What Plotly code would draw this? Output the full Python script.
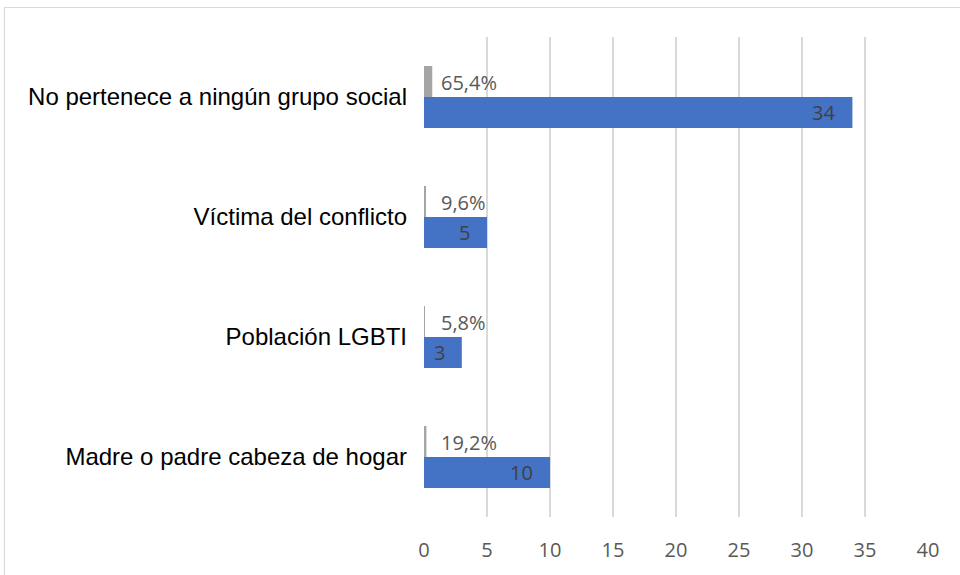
import plotly.graph_objects as go

categories = [
    "No pertenece a ningún grupo social",
    "Víctima del conflicto",
    "Población LGBTI",
    "Madre o padre cabeza de hogar",
]
counts = [34, 5, 3, 10]
shares = [0.654, 0.096, 0.058, 0.192]
share_labels = ["65,4%", "9,6%", "5,8%", "19,2%"]
x_ticks = [0, 5, 10, 15, 20, 25, 30, 35, 40]

BLUE = "#4472C4"
GRAY = "#A5A5A5"
GRID = "#D9D9D9"
TXT = "#595959"

fig = go.Figure()
fig.add_trace(go.Bar(
    y=categories, x=counts, orientation="h", name="Cantidad",
    marker=dict(color=BLUE, line=dict(width=0)),
))
fig.add_trace(go.Bar(
    y=categories, x=shares, orientation="h", name="Porcentaje",
    marker=dict(color=GRAY, line=dict(width=0)),
))

annotations = []
for cat, c in zip(categories, counts):
    annotations.append(dict(
        x=c, y=cat, xref="x", yref="y", text=str(c), showarrow=False,
        xanchor="right", yanchor="middle", xshift=-15, yshift=-15,
        font=dict(family="Open Sans", size=20, color="#404040"),
    ))
for cat, s, lab in zip(categories, shares, share_labels):
    annotations.append(dict(
        x=0, y=cat, xref="x", yref="y", text=lab, showarrow=False,
        xanchor="left", yanchor="middle", xshift=15, yshift=15,
        font=dict(family="Open Sans", size=20, color=TXT),
    ))

FW, FH = 960, 575
L, R, T, B = 424, 32, 37, 58
W = FW - L - R
H = FH - T - B

def px_x(p):
    return (p - L) / W

def px_y(p):
    return 1 - (p - T) / H

fig.update_layout(
    width=FW, height=FH,
    margin=dict(l=L, r=R, t=T, b=B),
    paper_bgcolor="white", plot_bgcolor="white",
    barmode="group", bargap=0.483, bargroupgap=0,
    showlegend=False,
    annotations=annotations,
    shapes=[dict(
        type="rect", xref="paper", yref="paper",
        x0=px_x(4.5), x1=px_x(985), y0=px_y(600), y1=px_y(7.5),
        line=dict(color=GRID, width=1.2), layer="below",
    )],
    xaxis=dict(
        range=[0, 40], tickvals=x_ticks, ticktext=[str(v) for v in x_ticks],
        showgrid=True, gridcolor=GRID, gridwidth=1.5,
        zeroline=False, showline=False, ticks="",
        tickfont=dict(family="Open Sans", size=20, color=TXT),
        ticklabelstandoff=19,
    ),
    yaxis=dict(
        categoryorder="array", categoryarray=categories[::-1],
        showgrid=False, zeroline=False, showline=False, ticks="",
        tickfont=dict(family="Liberation Sans, Arial", size=24, color="#000000"),
        ticklabelstandoff=16,
    ),
)

fig.write_html(
    "out.html",
    config={"displayModeBar": False},
    post_script="document.body.style.margin='0';document.body.style.padding='0';",
)
